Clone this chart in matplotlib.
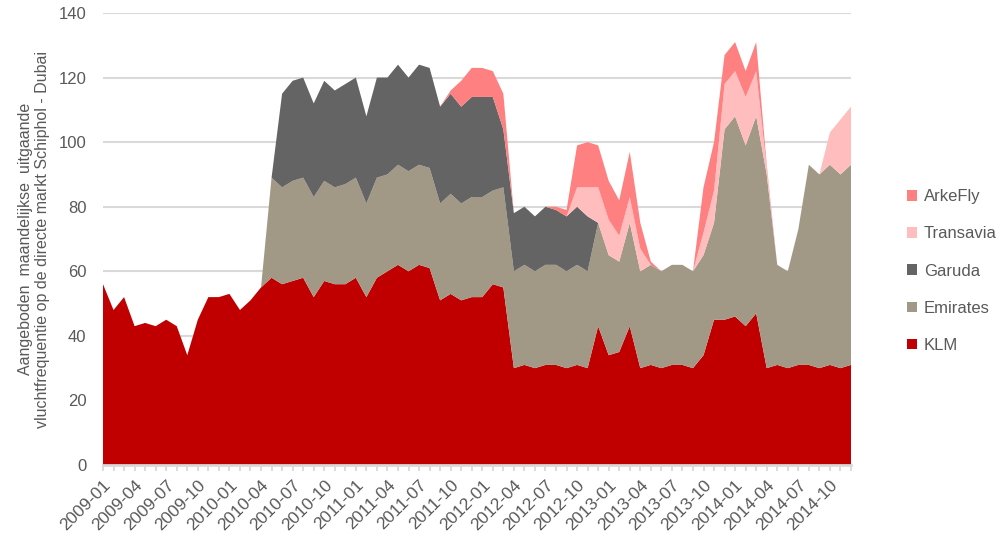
import matplotlib
matplotlib.use('Agg')
from matplotlib import pyplot as plt
import numpy as np

plt.rcParams['font.family'] = ['Liberation Sans', 'DejaVu Sans']

# months 2009-01 .. 2014-12
months = ['%d-%02d' % (y, m) for y in range(2009, 2015) for m in range(1, 13)]

klm = [56, 48, 52, 43, 44, 43, 45, 43, 34, 45, 52, 52,
       53, 48, 51, 55, 58, 56, 57, 58, 52, 57, 56, 56,
       58, 52, 58, 60, 62, 60, 62, 61, 51, 53, 51, 52,
       52, 56, 55, 30, 31, 30, 31, 31, 30, 31, 30, 43,
       34, 35, 43, 30, 31, 30, 31, 31, 30, 34, 45, 45,
       46, 43, 47, 30, 31, 30, 31, 31, 30, 31, 30, 31]
emirates = [0, 0, 0, 0, 0, 0, 0, 0, 0, 0, 0, 0,
            0, 0, 0, 0, 31, 30, 31, 31, 31, 31, 30, 31,
            31, 29, 31, 30, 31, 31, 31, 31, 30, 31, 30, 31,
            31, 29, 31, 30, 31, 30, 31, 31, 30, 31, 30, 32,
            31, 28, 32, 30, 31, 30, 31, 31, 30, 31, 30, 59,
            62, 56, 61, 60, 31, 30, 42, 62, 60, 62, 60, 62]
garuda = [0, 0, 0, 0, 0, 0, 0, 0, 0, 0, 0, 0,
          0, 0, 0, 0, 0, 29, 31, 31, 29, 31, 30, 31,
          31, 27, 31, 30, 31, 29, 31, 31, 30, 31, 30, 31,
          31, 29, 18, 18, 18, 17, 18, 17, 17, 18, 17, 0,
          0, 0, 0, 0, 0, 0, 0, 0, 0, 0, 0, 0,
          0, 0, 0, 0, 0, 0, 0, 0, 0, 0, 0, 0]
transavia = [0, 0, 0, 0, 0, 0, 0, 0, 0, 0, 0, 0,
             0, 0, 0, 0, 0, 0, 0, 0, 0, 0, 0, 0,
             0, 0, 0, 0, 0, 0, 0, 0, 0, 0, 0, 0,
             0, 0, 0, 0, 0, 0, 0, 0, 0, 6, 9, 11,
             11, 8, 8, 7, 0, 0, 0, 0, 0, 7, 10, 14,
             14, 15, 14, 2, 0, 0, 0, 0, 0, 10, 17, 18]
arkefly = [0, 0, 0, 0, 0, 0, 0, 0, 0, 0, 0, 0,
           0, 0, 0, 0, 0, 0, 0, 0, 0, 0, 0, 0,
           0, 0, 0, 0, 0, 0, 0, 0, 0, 1, 8, 9,
           9, 8, 11, 0, 0, 0, 0, 1, 2, 13, 14, 13,
           12, 11, 14, 8, 1, 0, 0, 0, 0, 14, 15, 9,
           9, 8, 9, 1, 0, 0, 0, 0, 0, 0, 0, 0]

names = ['KLM', 'Emirates', 'Garuda', 'Transavia', 'ArkeFly']
colors = ['#C00000', '#A29886', '#646464', '#FFBDBD', '#FF8080']
grey = '#595959'

fig = plt.figure(figsize=(10.06, 5.39), dpi=100)
ax = fig.add_axes([103/1006, 1-465/539, 748/1006, 452/539])

x = np.arange(len(months))
ax.stackplot(x, klm, emirates, garuda, transavia, arkefly,
             labels=names, colors=colors, linewidth=0, zorder=2)

ax.set_xlim(0, len(months)-1)
ax.set_ylim(0, 140)
ax.set_yticks(range(0, 141, 20))
ax.yaxis.grid(True, color='#D9D9D9', linewidth=1.5, zorder=0)
ax.set_axisbelow(True)

ax.set_xticks(x[::3])
ax.set_xticklabels(months[::3], rotation=45, ha='right', va='top',
                   rotation_mode='anchor', fontsize=12.5, color=grey)
ax.set_xticks(x, minor=True)
ax.tick_params(axis='x', which='both', length=4, width=1.3, color='#D9D9D9', pad=5)
ax.tick_params(axis='y', length=0, pad=12, labelsize=12, labelcolor=grey)

for s in ['top', 'right', 'left']:
    ax.spines[s].set_visible(False)
ax.spines['bottom'].set_color('#D9D9D9')
ax.spines['bottom'].set_linewidth(2)
ax.spines['bottom'].set_zorder(3)

ax.set_ylabel('Aangeboden  maandelijkse  uitgaande\nvluchtfrequentie op de directe markt Schiphol - Dubai',
              fontsize=11.5, color=grey, labelpad=6)

h, l = ax.get_legend_handles_labels()
leg = ax.legend(h[::-1], l[::-1], loc='center left', bbox_to_anchor=(1.055, 0.429),
                frameon=False, fontsize=12, handlelength=0.6, handleheight=0.6,
                handletextpad=0.4, labelspacing=1.33)
for t in leg.get_texts():
    t.set_color(grey)

plt.savefig('out.png', dpi=100)
plt.close()
